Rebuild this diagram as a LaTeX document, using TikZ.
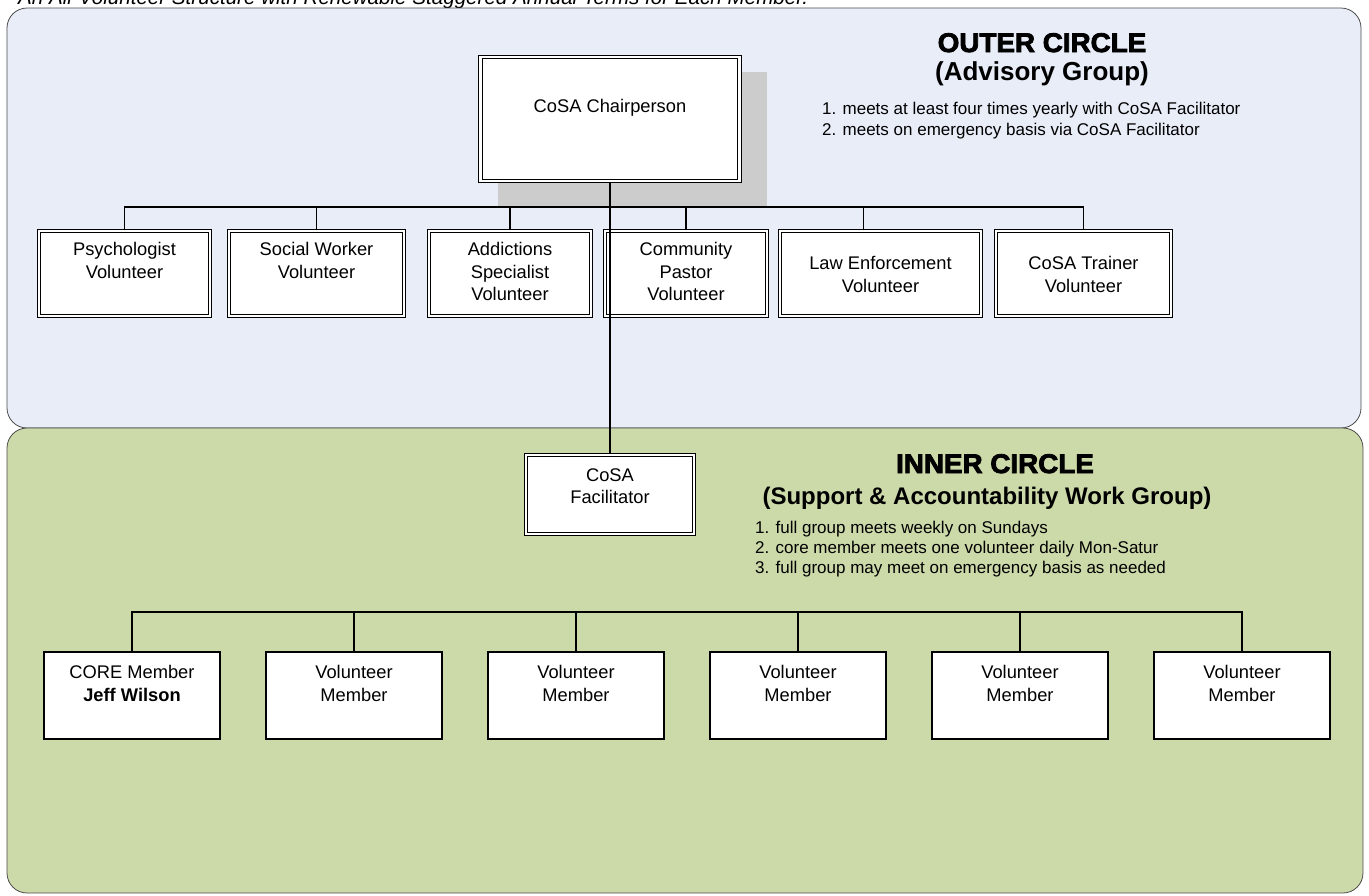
\documentclass[tikz,border=0pt]{standalone}
\usepackage{fontspec}
\setmainfont{Liberation Sans}
\newfontfamily\headfont[BoldFeatures={FakeBold=3, FakeStretch=1.03}]{Liberation Sans}
\usepackage{tikz}
\definecolor{outerblue}{HTML}{E8EDF8}
\definecolor{innergreen}{HTML}{CCD9A9}
\definecolor{shadowgray}{HTML}{CCCCCC}
\tikzset{
    panel/.style={draw=black!70, line width=0.8pt, rounded corners=20pt},
    volbox/.style={draw, fill=white, double, double distance=2.4pt, line width=1.1pt, inner sep=0pt, minimum height=85pt},
    membox/.style={draw, fill=white, line width=1.3pt, inner sep=0pt, minimum width=176pt, minimum height=87pt},
    boxtext/.style={font=\fontsize{18.3}{22.5}\selectfont, align=center, inner sep=0pt},
    headtext/.style={font=\headfont\bfseries\fontsize{27}{30}\selectfont, inner sep=0pt, anchor=base},
    subhead/.style={font=\bfseries\fontsize{#1}{30}\selectfont, inner sep=0pt, anchor=base},
    listtext/.style={font=\fontsize{17}{#1}\selectfont, align=left, inner sep=0pt, anchor=north west},
    link/.style={line width=1.4pt}}

\begin{document}
\begin{tikzpicture}[x=1pt, y=-1pt]
        \useasboundingbox (0,0) rectangle (1369,895);
        \clip (0,0) rectangle (1369,895);

                    \node[font=\fontsize{20.6}{24}\selectfont\itshape, anchor=base west, inner sep=0pt] (title) at (18,4) {An All-Volunteer Structure with Renewable Staggered Annual Terms for Each Member.};

                    \draw[panel, fill=outerblue] (7,8) rectangle (1361,428);
                    \draw[panel, fill=innergreen] (7,428) rectangle (1363,893);
                    \fill[shadowgray] (498,72) rectangle (767,207);

                    \node[volbox, minimum width=259pt, minimum height=124pt, label={[boxtext, anchor=north, yshift=-43pt]north:{CoSA Chairperson}}] (chair) at (610,119) {};
                    \node[volbox, minimum width=171pt, label={[boxtext, anchor=north, yshift=-12pt]north:{Psychologist\\Volunteer}}] (v1) at (124.5,273.5) {};
                    \node[volbox, minimum width=175pt, label={[boxtext, anchor=north, yshift=-12pt]north:{Social Worker\\Volunteer}}] (v2) at (316.5,273.5) {};
                    \node[volbox, minimum width=162pt, label={[boxtext, anchor=north, yshift=-12pt]north:{Addictions\\Specialist\\Volunteer}}] (v3) at (510,273.5) {};
                    \node[volbox, minimum width=162pt, label={[boxtext, anchor=north, yshift=-12pt]north:{Community\\Pastor\\Volunteer}}] (v4) at (686,273.5) {};
                    \node[volbox, minimum width=201pt, label={[boxtext, anchor=north, yshift=-26pt]north:{Law Enforcement\\Volunteer}}] (v5) at (880.5,273.5) {};
                    \node[volbox, minimum width=175pt, label={[boxtext, anchor=north, yshift=-26pt]north:{CoSA Trainer\\Volunteer}}] (v6) at (1083.5,273.5) {};

                    \node[volbox, minimum width=168pt, minimum height=79pt, label={[boxtext, anchor=north, yshift=-14pt]north:{CoSA\\Facilitator}}] (fac) at (610,494.5) {};

                    \node[membox, label={[boxtext, anchor=north, yshift=-14pt]north:{CORE Member\\\textbf{Jeff Wilson}}}] (m1) at (132,695.5) {};
                    \node[membox, label={[boxtext, anchor=north, yshift=-14pt]north:{Volunteer\\Member}}] (m2) at (354,695.5) {};
                    \node[membox, label={[boxtext, anchor=north, yshift=-14pt]north:{Volunteer\\Member}}] (m3) at (576,695.5) {};
                    \node[membox, label={[boxtext, anchor=north, yshift=-14pt]north:{Volunteer\\Member}}] (m4) at (798,695.5) {};
                    \node[membox, label={[boxtext, anchor=north, yshift=-14pt]north:{Volunteer\\Member}}] (m5) at (1020,695.5) {};
                    \node[membox, label={[boxtext, anchor=north, yshift=-14pt]north:{Volunteer\\Member}}] (m6) at (1242,695.5) {};

                    \coordinate (obus) at (610,207);
                    \coordinate (ibus) at (610,612);

                    \draw[link] (chair) -- (fac);
                    \draw[link] (v1.north) |- (obus) -| (v6.north);
                    \foreach \i in {2,3,4}
                        \draw[link] (v\i.north) -- (v\i.north |- obus);
                    \draw[link] ([xshift=-17pt]v5.north) -- ([xshift=-17pt]v5.north |- obus);
                    \draw[link] (m1.north) |- (ibus) -| (m6.north);
                    \foreach \i in {2,...,5}
                        \draw[link] (m\i.north) -- (m\i.north |- ibus);

                    \node[headtext] (outerhead) at (1042,52) {OUTER CIRCLE};
                    \node[subhead=26] (outersub) at (1042,80) {(Advisory Group)};
                    \node[listtext=21] (outerlist) at (822,101.5) {1. meets at least four times yearly with CoSA Facilitator\\2. meets on emergency basis via CoSA Facilitator};

                    \node[headtext] (innerhead) at (995,473) {INNER CIRCLE};
                    \node[subhead=24] (innersub) at (987,504) {(Support \& Accountability Work Group)};
                    \node[listtext=20] (innerlist) at (755,520.5) {1. full group meets weekly on Sundays\\2. core member meets one volunteer daily Mon-Satur\\3. full group may meet on emergency basis as needed};

                \end{tikzpicture}
\end{document}
